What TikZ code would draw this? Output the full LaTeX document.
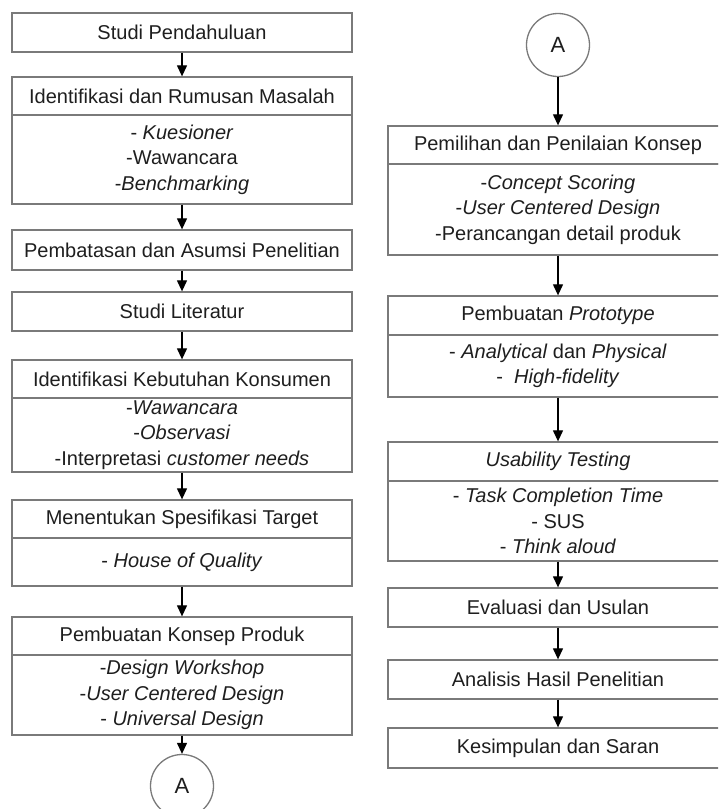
\documentclass[tikz,border=0pt]{standalone}
\usepackage{fontspec}
\setmainfont{Liberation Sans}
\usetikzlibrary{arrows.meta}
\definecolor{boxgray}{HTML}{7A7A7A}
\definecolor{txt}{HTML}{1E1E1E}
\begin{document}
\begin{tikzpicture}[x=1pt,y=-1pt,
  stepbox/.style={draw=boxgray, line width=1.3pt, rectangle, minimum width=340pt, inner sep=0pt, align=center, text=txt, font=\fontsize{20}{25.5}\selectfont},
  conn/.style={draw=boxgray, line width=1.3pt, circle, minimum size=63pt, inner sep=0pt, text=txt, font=\fontsize{22}{26}\selectfont},
  arr/.style={line width=1.2pt, -{Triangle[length=11pt,width=10pt]}}]
\useasboundingbox (0,0) rectangle (718,809);
\clip (0,0) rectangle (718,809);
% left column
\node[stepbox, minimum height=39pt] (L1) at (182,32.5) {Studi Pendahuluan};
\node[stepbox, minimum height=38pt] (L2t) at (182,96) {Identifikasi dan Rumusan Masalah};
\node[stepbox, minimum height=89pt] (L2b) at (182,159.5) {- \textit{Kuesioner}\\-Wawancara\\-\textit{Benchmarking}};
\node[stepbox, minimum height=40pt] (L3) at (182,250) {Pembatasan dan Asumsi Penelitian};
\node[stepbox, minimum height=39pt] (L4) at (182,311.5) {Studi Literatur};
\node[stepbox, minimum height=38pt] (L5t) at (182,379) {Identifikasi Kebutuhan Konsumen};
\node[stepbox, minimum height=74pt] (L5b) at (182,435) {-\textit{Wawancara}\\-\textit{Observasi}\\-Interpretasi \textit{customer needs}};
\node[stepbox, minimum height=38pt] (L6t) at (182,519) {Menentukan Spesifikasi Target};
\node[stepbox, minimum height=48pt] (L6b) at (182,562) {- \textit{House of Quality}};
\node[stepbox, minimum height=38pt] (L7t) at (182,636) {Pembuatan Konsep Produk};
\node[stepbox, minimum height=80pt] (L7b) at (182,695) {-\textit{Design Workshop}\\-\textit{User Centered Design}\\- \textit{Universal Design}};
\node[conn] (LA) at (182,786) {A};
% right column
\node[conn] (RA) at (558,45) {A};
\node[stepbox, minimum height=38pt] (R1t) at (558,145) {Pemilihan dan Penilaian Konsep};
\node[stepbox, minimum height=91pt] (R1b) at (558,209.5) {-\textit{Concept Scoring}\\-\textit{User Centered Design}\\-Perancangan detail produk};
\node[stepbox, minimum height=39pt] (R2t) at (558,315.5) {Pembuatan \textit{Prototype}};
\node[stepbox, minimum height=62pt] (R2b) at (558,366) {- \textit{Analytical} dan \textit{Physical}\\-\ \ \textit{High-fidelity}};
\node[stepbox, minimum height=39pt] (R3t) at (558,461.5) {\textit{Usability Testing}};
\node[stepbox, minimum height=80pt] (R3b) at (558,521) {- \textit{Task Completion Time}\\- SUS\\- \textit{Think aloud}};
\node[stepbox, minimum height=39pt] (R4) at (558,607.5) {Evaluasi dan Usulan};
\node[stepbox, minimum height=39pt] (R5) at (558,679.5) {Analisis Hasil Penelitian};
\node[stepbox, minimum height=40pt] (R6) at (558,748) {Kesimpulan dan Saran};
% connectors
\draw[arr] (L1.south) -- (L2t.north);
\draw[arr] (L2b.south) -- (L3.north);
\draw[arr] (L3.south) -- (L4.north);
\draw[arr] (L4.south) -- (L5t.north);
\draw[arr] (L5b.south) -- (L6t.north);
\draw[arr] (L6b.south) -- (L7t.north);
\draw[arr] (L7b.south) -- (LA.north);
\draw[arr] (RA.south) -- (R1t.north);
\draw[arr] (R1b.south) -- (R2t.north);
\draw[arr] (R2b.south) -- (R3t.north);
\draw[arr] (R3b.south) -- (R4.north);
\draw[arr] (R4.south) -- (R5.north);
\draw[arr] (R5.south) -- (R6.north);
\end{tikzpicture}
\end{document}
